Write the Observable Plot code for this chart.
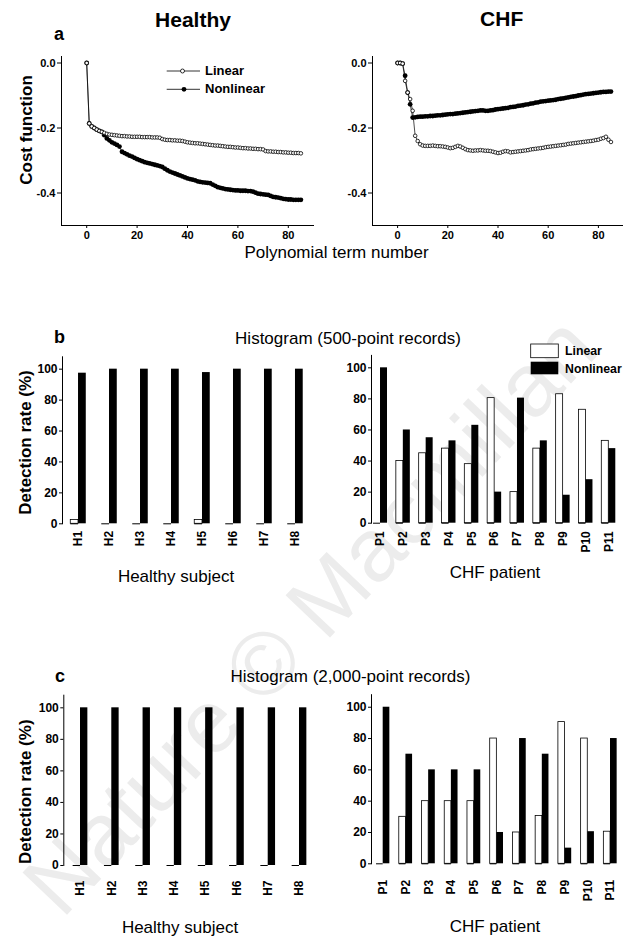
<!DOCTYPE html>
<html><head><meta charset="utf-8">
<script src="https://cdn.jsdelivr.net/npm/d3@7"></script>
<script src="https://cdn.jsdelivr.net/npm/@observablehq/plot@0.6"></script>
<style>
body{margin:0;background:#fff;}
#fig{position:relative;width:623px;height:936px;overflow:hidden;background:#fff;}
.layer{position:absolute;left:0;top:0;}
.panel{position:absolute;}
</style></head><body><div id="fig"></div>
<script>
// ---------- DATA ----------
// Panel a: cost function vs polynomial term number (index = term number)
const healthyLinear = [
  0, -0.186, -0.195, -0.200, -0.205, -0.209, -0.212, -0.215, -0.218, -0.220,
  -0.221, -0.222, -0.223, -0.224, -0.225, -0.225, -0.226, -0.226, -0.227, -0.227,
  -0.227, -0.227, -0.228, -0.228, -0.228, -0.228, -0.229, -0.229, -0.229, -0.230,
  -0.234, -0.236, -0.237, -0.237, -0.238, -0.238, -0.239, -0.239, -0.240, -0.242,
  -0.244, -0.245, -0.246, -0.247, -0.247, -0.248, -0.249, -0.250, -0.251, -0.252,
  -0.253, -0.254, -0.254, -0.255, -0.256, -0.257, -0.258, -0.258, -0.259, -0.260,
  -0.260, -0.261, -0.262, -0.262, -0.263, -0.263, -0.264, -0.264, -0.265, -0.265,
  -0.266, -0.271, -0.272, -0.272, -0.273, -0.273, -0.274, -0.274, -0.275, -0.275,
  -0.276, -0.276, -0.277, -0.277, -0.277, -0.278];
const healthyNonlinear = [
  0, -0.186, -0.195, -0.200, -0.205, -0.209, -0.212, -0.222, -0.232, -0.238,
  -0.244, -0.248, -0.252, -0.257, -0.273, -0.277, -0.281, -0.285, -0.288, -0.292,
  -0.296, -0.299, -0.302, -0.305, -0.307, -0.309, -0.311, -0.313, -0.315, -0.317,
  -0.320, -0.325, -0.330, -0.334, -0.337, -0.340, -0.343, -0.346, -0.349, -0.352,
  -0.355, -0.357, -0.359, -0.361, -0.364, -0.366, -0.367, -0.368, -0.369, -0.370,
  -0.374, -0.378, -0.382, -0.384, -0.386, -0.388, -0.389, -0.390, -0.391, -0.392,
  -0.392, -0.393, -0.393, -0.393, -0.394, -0.394, -0.396, -0.399, -0.402, -0.403,
  -0.404, -0.405, -0.406, -0.409, -0.412, -0.413, -0.414, -0.416, -0.418, -0.419,
  -0.420, -0.420, -0.421, -0.421, -0.421, -0.421];
const chfLinear = [
  0, 0, -0.002, -0.055, -0.091, -0.111, -0.147, -0.224, -0.240, -0.250,
  -0.254, -0.255, -0.255, -0.255, -0.254, -0.255, -0.256, -0.256, -0.257, -0.258,
  -0.260, -0.262, -0.261, -0.258, -0.255, -0.257, -0.261, -0.265, -0.268, -0.269,
  -0.270, -0.269, -0.269, -0.268, -0.269, -0.270, -0.270, -0.271, -0.273, -0.275,
  -0.277, -0.276, -0.273, -0.271, -0.272, -0.275, -0.274, -0.273, -0.272, -0.271,
  -0.270, -0.269, -0.268, -0.266, -0.265, -0.264, -0.263, -0.262, -0.261, -0.259,
  -0.258, -0.257, -0.256, -0.255, -0.254, -0.253, -0.252, -0.251, -0.249, -0.248,
  -0.247, -0.246, -0.245, -0.244, -0.243, -0.242, -0.241, -0.240, -0.239, -0.237,
  -0.236, -0.233, -0.231, -0.227, -0.236, -0.243];
const chfNonlinear = [
  0, 0, -0.002, -0.039, -0.091, -0.127, -0.168, -0.167, -0.166, -0.165,
  -0.165, -0.164, -0.164, -0.163, -0.163, -0.162, -0.161, -0.161, -0.160, -0.159,
  -0.158, -0.157, -0.157, -0.156, -0.155, -0.154, -0.153, -0.152, -0.151, -0.150,
  -0.149, -0.148, -0.147, -0.146, -0.146, -0.147, -0.147, -0.146, -0.145, -0.143,
  -0.142, -0.141, -0.140, -0.139, -0.138, -0.136, -0.135, -0.134, -0.132, -0.131,
  -0.130, -0.128, -0.127, -0.125, -0.124, -0.122, -0.121, -0.119, -0.118, -0.117,
  -0.116, -0.115, -0.114, -0.113, -0.111, -0.110, -0.109, -0.107, -0.106, -0.104,
  -0.103, -0.102, -0.100, -0.099, -0.097, -0.096, -0.095, -0.094, -0.093, -0.092,
  -0.091, -0.090, -0.089, -0.089, -0.088, -0.088];
const costTicks = [0, -0.2, -0.4];
const costTickLabels = ["0.0", "-0.2", "-0.4"];
const termTicks = [0, 20, 40, 60, 80];
const termDomain = [-10, 90];
const costDomain = [-0.5, 0.02];

// Panels b and c: detection rate (%)
const healthySubjects = ["H1", "H2", "H3", "H4", "H5", "H6", "H7", "H8"];
const chfPatients = ["P1", "P2", "P3", "P4", "P5", "P6", "P7", "P8", "P9", "P10", "P11"];
const b500HealthyLinear = [2.5, 0, 0, 0, 2.5, 0, 0, 0];
const b500HealthyNonlinear = [97.4, 100, 100, 100, 97.8, 100, 100, 100];
const b500ChfLinear = [0, 40, 45, 48, 38, 80.5, 20, 48, 83, 73, 53];
const b500ChfNonlinear = [100, 60, 55, 53, 63, 20, 80.5, 53, 18, 28, 48];
const c2000HealthyLinear = [0, 0, 0, 0, 0, 0, 0, 0];
const c2000HealthyNonlinear = [100, 100, 100, 100, 100, 100, 100, 100];
const c2000ChfLinear = [0, 30, 40, 40, 40, 80, 20, 30.5, 90.5, 80, 20.5];
const c2000ChfNonlinear = [100, 70, 60, 60, 60, 20, 80, 70, 10, 20.5, 80];
const rateTicks = [0, 20, 40, 60, 80, 100];
const rateDomain = [0, 108];

// ---------- RENDER ----------
const FONT = '"Liberation Sans", Arial, Helvetica, sans-serif';
const fig = document.getElementById("fig");
const NS = "http://www.w3.org/2000/svg";

function place(node, left, top, z) {
  const d = document.createElement("div");
  d.className = "panel";
  d.style.left = left + "px"; d.style.top = top + "px"; d.style.zIndex = z;
  d.appendChild(node);
  fig.appendChild(d);
}

function costPanel(lin, non, ml) {
  const L = lin.map((v, i) => ({term: i, cost: v}));
  const N = non.map((v, i) => ({term: i, cost: v}));
  return Plot.plot({
    width: 313, height: 250,
    marginLeft: ml, marginRight: 0, marginTop: 56, marginBottom: 25,
    style: `background:transparent;font-family:${FONT};font-size:11px;font-weight:bold;color:#000;overflow:visible;`,
    x: {domain: termDomain, ticks: termTicks, tickSize: 3, tickPadding: 3, label: null},
    y: {domain: costDomain, ticks: costTicks, tickFormat: d => costTickLabels[costTicks.indexOf(d)], tickSize: 4, tickPadding: 2, label: null},
    marks: [
      Plot.frame({anchor: "left", stroke: "#000", strokeWidth: 1}),
      Plot.frame({anchor: "bottom", stroke: "#000", strokeWidth: 1}),
      Plot.line(N, {x: "term", y: "cost", stroke: "#000", strokeWidth: 0.7}),
      Plot.dot(N, {x: "term", y: "cost", r: 2.4, fill: "#000", stroke: "none"}),
      Plot.line(L, {x: "term", y: "cost", stroke: "#000", strokeWidth: 0.7}),
      Plot.dot(L, {x: "term", y: "cost", r: 1.8, fill: "#fff", stroke: "#000", strokeWidth: 0.8})
    ]
  });
}

function ratePanel(cats, lin, non, o) {
  const rows = cats.map((c, i) => ({cat: c, lin: lin[i], non: non[i]}));
  const rangeW = o.width - o.ml - o.mr;
  const step = rangeW / (cats.length - o.pi + 2 * o.po);
  const half = step * (1 - o.pi) / 2;
  return Plot.plot({
    width: o.width, height: o.height,
    marginLeft: o.ml, marginRight: o.mr, marginTop: o.mt, marginBottom: o.mb,
    style: `background:transparent;font-family:${FONT};font-size:12px;font-weight:bold;color:#000;overflow:visible;`,
    x: {type: "band", domain: cats, paddingInner: o.pi, paddingOuter: o.po, round: false,
        tickSize: 0, tickPadding: o.tp, tickRotate: -90, label: null},
    y: {domain: rateDomain, ticks: rateTicks, tickSize: 3, tickPadding: 2, label: null},
    marks: [
      Plot.frame({anchor: "left", stroke: "#000", strokeWidth: 1}),
      Plot.barY(rows, {x: "cat", y: "lin", fill: "#fff", stroke: "#000", strokeWidth: 0.8, insetRight: half}),
      Plot.tickY(rows, {x: "cat", y: 0, stroke: "#000", strokeWidth: 1, insetRight: half}),
      Plot.barY(rows, {x: "cat", y: "non", fill: "#000", insetLeft: half})
    ]
  });
}

// watermark layer
const wm = document.createElementNS(NS, "svg");
wm.setAttribute("width", 623); wm.setAttribute("height", 936);
wm.setAttribute("class", "layer"); wm.style.zIndex = 0;
wm.innerHTML = `<text transform="translate(62,920) rotate(-46.5)" font-family='${FONT}' font-size="89" fill="#ececec">Nature © Macmillan</text>`;
fig.appendChild(wm);

place(costPanel(healthyLinear, healthyNonlinear, 61), 0, 0, 1);
place(costPanel(chfLinear, chfNonlinear, 62), 310, 0, 1);

place(ratePanel(healthySubjects, b500HealthyLinear, b500HealthyNonlinear,
  {width: 313, height: 220, ml: 62, mr: 2, mt: 16.3, mb: 36.7, pi: 0.5, po: 0.267, tp: 7}), 0, 340, 1);
place(ratePanel(chfPatients, b500ChfLinear, b500ChfNonlinear,
  {width: 313, height: 220, ml: 61, mr: 5.7, mt: 14.9, mb: 37.3, pi: 0.387, po: 0.088, tp: 8}), 310, 340, 1);
place(ratePanel(healthySubjects, c2000HealthyLinear, c2000HealthyNonlinear,
  {width: 318, height: 220, ml: 63.3, mr: 2.3, mt: 14.7, mb: 35, pi: 0.53, po: 0.299, tp: 15}), 0, 680, 1);
place(ratePanel(chfPatients, c2000ChfLinear, c2000ChfNonlinear,
  {width: 313, height: 220, ml: 61, mr: 1.3, mt: 14.2, mb: 36.7, pi: 0.415, po: 0.222, tp: 16}), 310, 680, 1);

// text / legend layer
const ov = document.createElementNS(NS, "svg");
ov.setAttribute("width", 623); ov.setAttribute("height", 936);
ov.setAttribute("class", "layer"); ov.style.zIndex = 2;
ov.setAttribute("font-family", FONT);
ov.innerHTML = `
<g font-weight="bold" fill="#000">
  <text x="193" y="26.5" font-size="21" text-anchor="middle">Healthy</text>
  <text x="501.7" y="26" font-size="21" text-anchor="middle">CHF</text>
  <text x="54" y="39.5" font-size="18">a</text>
  <text x="54" y="342.7" font-size="18">b</text>
  <text x="55" y="681.7" font-size="18">c</text>
  <text transform="translate(31.5,130) rotate(-90)" font-size="17" text-anchor="middle">Cost function</text>
  <text transform="translate(30.5,442.5) rotate(-90)" font-size="17" text-anchor="middle">Detection rate (%)</text>
  <text transform="translate(30.5,791.7) rotate(-90)" font-size="17" text-anchor="middle">Detection rate (%)</text>
  <text x="205" y="75" font-size="13">Linear</text>
  <text x="205" y="93.3" font-size="13">Nonlinear</text>
  <text x="565" y="355" font-size="12.3">Linear</text>
  <text x="565" y="373.3" font-size="12.3">Nonlinear</text>
</g>
<g stroke="#000">
  <line x1="166.7" y1="71" x2="200" y2="71" stroke-width="0.8"/>
  <circle cx="182.5" cy="71" r="2" fill="#fff" stroke-width="0.8"/>
  <line x1="166.7" y1="89.3" x2="200" y2="89.3" stroke-width="0.8"/>
  <circle cx="184" cy="89.3" r="2.4" fill="#000" stroke="none"/>
  <rect x="530.7" y="344" width="27.6" height="13.7" fill="#fff" stroke-width="0.8"/>
  <rect x="530.7" y="361.7" width="27.6" height="12.6" fill="#000" stroke="none"/>
</g>
<g font-size="17" fill="#000" text-anchor="middle">
  <text x="336.5" y="257.7">Polynomial term number</text>
  <text x="348" y="344">Histogram (500-point records)</text>
  <text x="350.5" y="681.7">Histogram (2,000-point records)</text>
  <text x="176" y="581.7">Healthy subject</text>
  <text x="495" y="578.3">CHF patient</text>
  <text x="180" y="932.7">Healthy subject</text>
  <text x="495" y="931.7">CHF patient</text>
</g>`;
fig.appendChild(ov);
</script></body></html>
